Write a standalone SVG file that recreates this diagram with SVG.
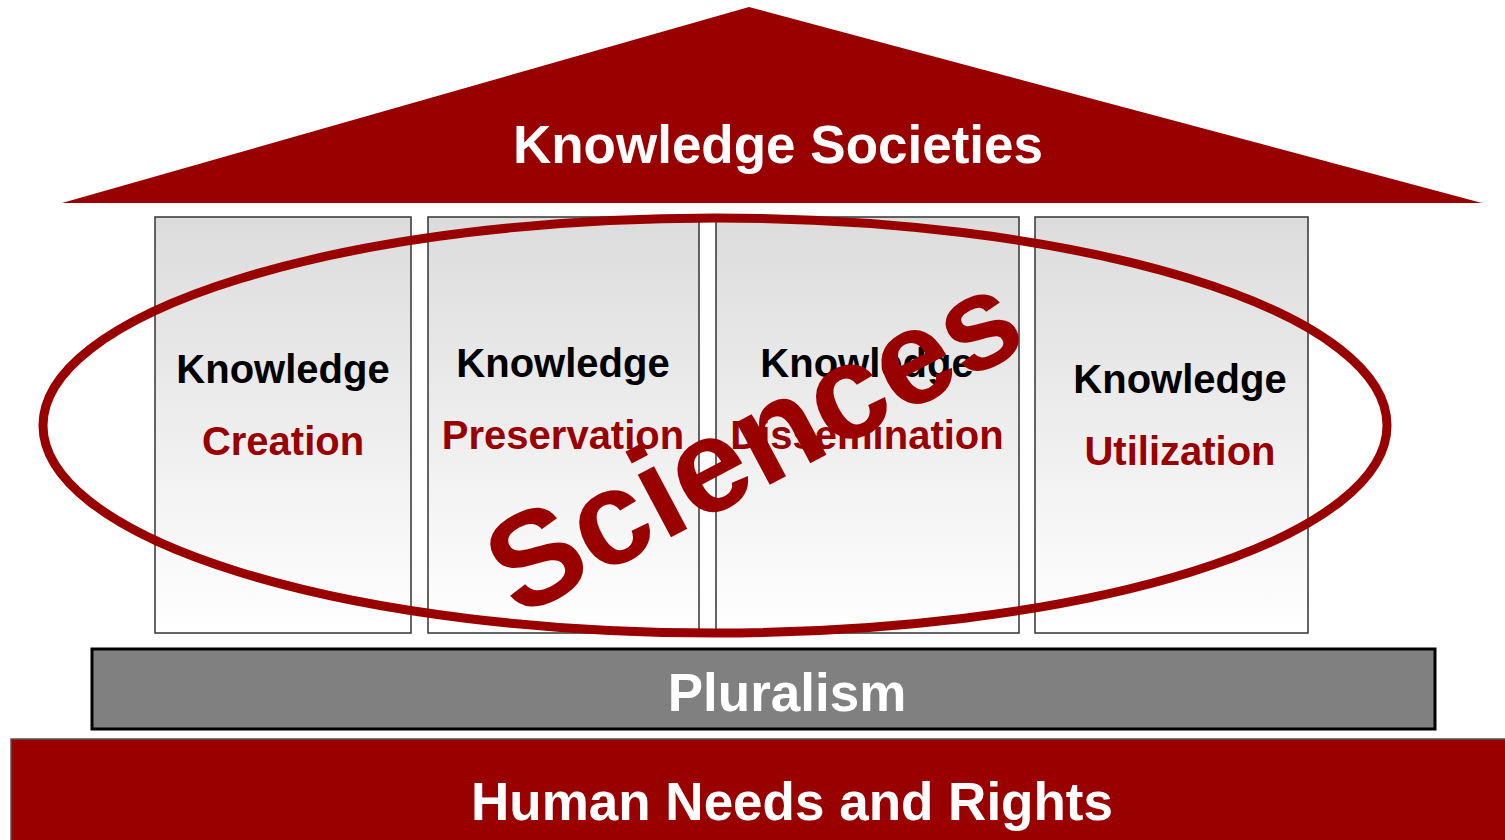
<svg xmlns="http://www.w3.org/2000/svg" width="1505" height="840" viewBox="0 0 1505 840">
<defs>
<linearGradient id="pillarGrad" x1="0" y1="0" x2="0" y2="1">
<stop offset="0" stop-color="#dcdcdc"/>
<stop offset="1" stop-color="#ffffff"/>
</linearGradient>
</defs>
<style>
.pillar{fill:url(#pillarGrad);stroke:#333;stroke-width:1.5}
.t{font-family:"Liberation Sans",Arial,sans-serif;font-weight:bold;text-anchor:middle}
.k{font-size:40px;fill:#000}
.r{font-size:40px;fill:#990000}
.w{font-size:53px;fill:#fff}
</style>
<rect width="1505" height="840" fill="#fff"/>
<g id="roof">
<polygon points="749,7 1482,203 62,203" fill="#990000"/>
<text class="t w" x="778" y="163">Knowledge Societies</text>
</g>
<g id="pillar-creation">
<rect class="pillar" x="155" y="217" width="256" height="416"/>
<text class="t k" x="283" y="383">Knowledge</text>
<text class="t r" x="283" y="455">Creation</text>
</g>
<g id="pillar-preservation">
<rect class="pillar" x="428" y="217" width="271" height="416"/>
<text class="t k" x="563" y="377">Knowledge</text>
<text class="t r" x="563" y="449">Preservation</text>
</g>
<g id="pillar-dissemination">
<rect class="pillar" x="716" y="217" width="303" height="416"/>
<text class="t k" x="867" y="377">Knowledge</text>
<text class="t r" x="867" y="449">Dissemination</text>
</g>
<g id="pillar-utilization">
<rect class="pillar" x="1035" y="217" width="273" height="416"/>
<text class="t k" x="1180" y="393">Knowledge</text>
<text class="t r" x="1180" y="465">Utilization</text>
</g>
<g id="pluralism">
<rect x="92" y="649" width="1343" height="80" fill="#808080" stroke="#000" stroke-width="3"/>
<text class="t w" x="787" y="711">Pluralism</text>
</g>
<g id="human-needs">
<rect x="11" y="739" width="1510" height="120" fill="#990000" stroke="#555" stroke-width="1.5"/>
<text class="t w" x="792" y="820">Human Needs and Rights</text>
</g>
<g id="sciences">
<ellipse cx="715" cy="425.5" rx="672" ry="207.5" fill="none" stroke="#990000" stroke-width="9"/>
<text class="t" transform="translate(752,440) rotate(-28)" x="0" y="48" font-size="134" fill="#990000">Sciences</text>
</g>
<g id="connectors"></g>
</svg>
